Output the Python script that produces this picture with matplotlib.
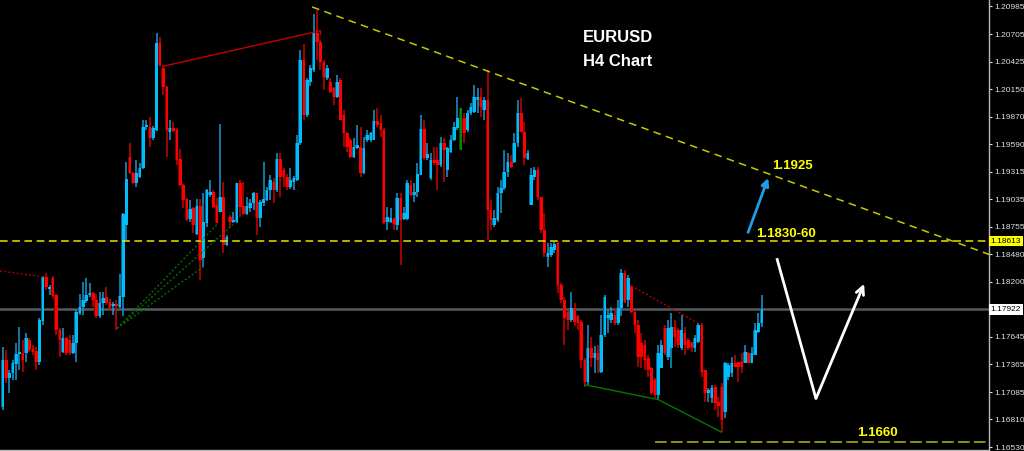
import matplotlib
matplotlib.use('Agg')
import matplotlib.pyplot as plt
import matplotlib.transforms as mtransforms
import numpy as np

# ---------------- data (EURUSD H4 candles) ----------------
opens = [1.1693, 1.1741, 1.1723, 1.1728, 1.1737, 1.1747, 1.1748, 1.1748, 1.1761, 1.1752,
         1.1750, 1.1739, 1.1780, 1.1825, 1.1813, 1.1824, 1.1807, 1.1771, 1.1749, 1.1763,
         1.1761, 1.1748, 1.1758, 1.1789, 1.1795, 1.1801, 1.1807, 1.1809, 1.1802, 1.1785,
         1.1799, 1.1805, 1.1800, 1.1796, 1.1798, 1.1795, 1.1805, 1.1878, 1.1946, 1.1930,
         1.1920, 1.1926, 1.1935, 1.1977, 1.1977, 1.1965, 1.1974, 1.2062, 1.2036, 1.2017,
         1.1972, 1.1976, 1.1974, 1.1944, 1.1918, 1.1904, 1.1884, 1.1895, 1.1868, 1.1897,
         1.1844, 1.1880, 1.1908, 1.1911, 1.1898, 1.1891, 1.1906, 1.1857, 1.1886, 1.1881,
         1.1881, 1.1920, 1.1897, 1.1889, 1.1895, 1.1900, 1.1910, 1.1885, 1.1900, 1.1903,
         1.1913, 1.1921, 1.1913, 1.1944, 1.1933, 1.1926, 1.1916, 1.1921, 1.1923, 1.1960,
         1.2044, 1.1989, 1.2022, 1.2034, 1.2072, 1.2063, 1.2042, 1.2026, 1.2022, 1.2016,
         1.2007, 1.2024, 1.1989, 1.1971, 1.1963, 1.1946, 1.1955, 1.1956, 1.1930, 1.1963,
         1.1963, 1.1963, 1.1983, 1.1981, 1.1974, 1.1881, 1.1881, 1.1884, 1.1878, 1.1905,
         1.1884, 1.1884, 1.1918, 1.1908, 1.1911, 1.1928, 1.1975, 1.1945, 1.1925, 1.1943,
         1.1943, 1.1938, 1.1960, 1.1933, 1.1951, 1.1963, 1.1976, 1.1953, 1.1986, 1.1974,
         1.1991, 1.1992, 1.2004, 1.2007, 1.1994, 1.2004, 1.1893, 1.1878, 1.1883, 1.1910,
         1.1915, 1.1931, 1.1941, 1.1941, 1.1960, 1.1991, 1.1972, 1.1944, 1.1898, 1.1926,
         1.1933, 1.1906, 1.1872, 1.1845, 1.1847, 1.1852, 1.1859, 1.1817, 1.1802, 1.1790,
         1.1781, 1.1794, 1.1785, 1.1779, 1.1741, 1.1719, 1.1753, 1.1743, 1.1748, 1.1729,
         1.1766, 1.1783, 1.1781, 1.1787, 1.1778, 1.1794, 1.1829, 1.1802, 1.1815, 1.1790,
         1.1776, 1.1758, 1.1756, 1.1743, 1.1733, 1.1721, 1.1706, 1.1733, 1.1773, 1.1744,
         1.1753, 1.1774, 1.1771, 1.1753, 1.1768, 1.1761, 1.1759, 1.1753, 1.1759, 1.1776,
         1.1731, 1.1708, 1.1703, 1.1714, 1.1699, 1.1714, 1.1688, 1.1724, 1.1728, 1.1738,
         1.1739, 1.1739, 1.1738, 1.1748, 1.1738, 1.1746, 1.1769, 1.1778]
highs = [1.1754, 1.1751, 1.1731, 1.1741, 1.1758, 1.1774, 1.1761, 1.1768, 1.1763, 1.1756,
         1.1754, 1.1783, 1.1826, 1.1829, 1.1817, 1.1826, 1.1808, 1.1773, 1.1773, 1.1764,
         1.1766, 1.1766, 1.1792, 1.1808, 1.1820, 1.1824, 1.1819, 1.1810, 1.1808, 1.1810,
         1.1810, 1.1815, 1.1803, 1.1800, 1.1802, 1.1828, 1.1890, 1.1941, 1.1960, 1.1931,
         1.1943, 1.1940, 1.1984, 1.1984, 1.1987, 1.1978, 1.2072, 1.2068, 1.2039, 1.2018,
         1.1984, 1.1982, 1.1976, 1.1954, 1.1919, 1.1905, 1.1903, 1.1896, 1.1904, 1.1904,
         1.1910, 1.1914, 1.1923, 1.1913, 1.1905, 1.1980, 1.1921, 1.1867, 1.1888, 1.1891,
         1.1920, 1.1923, 1.1921, 1.1906, 1.1904, 1.1911, 1.1910, 1.1903, 1.1941, 1.1916,
         1.1928, 1.1925, 1.1950, 1.1950, 1.1935, 1.1929, 1.1935, 1.1927, 1.1969, 1.2054,
         1.2061, 1.2026, 1.2039, 1.2091, 1.2095, 1.2065, 1.2044, 1.2039, 1.2026, 1.2017,
         1.2029, 1.2026, 1.1994, 1.1972, 1.1965, 1.1965, 1.1979, 1.1977, 1.1966, 1.1974,
         1.1972, 1.1994, 1.1996, 1.1989, 1.1976, 1.1896, 1.1895, 1.1886, 1.1910, 1.1910,
         1.1896, 1.1923, 1.1923, 1.1920, 1.1940, 1.1989, 1.1984, 1.1960, 1.1950, 1.1956,
         1.1956, 1.1966, 1.1965, 1.1956, 1.1969, 1.1982, 1.2007, 1.1996, 1.1991, 1.1994,
         1.2001, 1.2019, 1.2016, 1.2016, 1.2007, 1.2034, 1.1903, 1.1893, 1.1916, 1.1923,
         1.1953, 1.1950, 1.1948, 1.1971, 1.2004, 1.2006, 1.1982, 1.1953, 1.1935, 1.1936,
         1.1936, 1.1906, 1.1890, 1.1859, 1.1859, 1.1860, 1.1861, 1.1819, 1.1805, 1.1792,
         1.1810, 1.1799, 1.1787, 1.1781, 1.1743, 1.1776, 1.1764, 1.1755, 1.1756, 1.1787,
         1.1807, 1.1792, 1.1795, 1.1794, 1.1802, 1.1833, 1.1832, 1.1827, 1.1817, 1.1792,
         1.1781, 1.1768, 1.1761, 1.1746, 1.1734, 1.1723, 1.1756, 1.1761, 1.1776, 1.1781,
         1.1789, 1.1781, 1.1773, 1.1787, 1.1774, 1.1763, 1.1759, 1.1766, 1.1778, 1.1778,
         1.1731, 1.1713, 1.1716, 1.1716, 1.1704, 1.1718, 1.1739, 1.1738, 1.1744, 1.1746,
         1.1739, 1.1748, 1.1756, 1.1749, 1.1754, 1.1778, 1.1789, 1.1807]
lows = [1.1690, 1.1718, 1.1708, 1.1721, 1.1721, 1.1731, 1.1729, 1.1739, 1.1749, 1.1746,
        1.1731, 1.1736, 1.1776, 1.1812, 1.1807, 1.1804, 1.1766, 1.1744, 1.1748, 1.1746,
        1.1746, 1.1747, 1.1739, 1.1787, 1.1787, 1.1799, 1.1805, 1.1795, 1.1783, 1.1783,
        1.1787, 1.1797, 1.1792, 1.1787, 1.1771, 1.1794, 1.1785, 1.1862, 1.1929, 1.1919,
        1.1916, 1.1925, 1.1934, 1.1974, 1.1956, 1.1963, 1.1973, 1.2037, 1.2009, 1.1946,
        1.1963, 1.1972, 1.1938, 1.1917, 1.1895, 1.1882, 1.1881, 1.1869, 1.1867, 1.1822,
        1.1835, 1.1875, 1.1906, 1.1895, 1.1880, 1.1891, 1.1849, 1.1856, 1.1874, 1.1880,
        1.1880, 1.1886, 1.1888, 1.1888, 1.1891, 1.1893, 1.1867, 1.1875, 1.1897, 1.1902,
        1.1903, 1.1900, 1.1911, 1.1906, 1.1916, 1.1913, 1.1914, 1.1913, 1.1922, 1.1958,
        1.1984, 1.1987, 1.2018, 1.2032, 1.2044, 1.2034, 1.2014, 1.2024, 1.2011, 1.1999,
        1.2006, 1.1984, 1.1956, 1.1951, 1.1945, 1.1945, 1.1954, 1.1926, 1.1929, 1.1961,
        1.1961, 1.1963, 1.1977, 1.1966, 1.1879, 1.1872, 1.1880, 1.1872, 1.1872, 1.1837,
        1.1883, 1.1883, 1.1907, 1.1901, 1.1906, 1.1928, 1.1943, 1.1943, 1.1923, 1.1938,
        1.1913, 1.1936, 1.1921, 1.1926, 1.1950, 1.1962, 1.1974, 1.1953, 1.1960, 1.1972,
        1.1989, 1.1991, 1.1991, 1.1987, 1.1984, 1.1862, 1.1872, 1.1875, 1.1881, 1.1890,
        1.1913, 1.1926, 1.1935, 1.1940, 1.1956, 1.1972, 1.1938, 1.1943, 1.1898, 1.1923,
        1.1903, 1.1869, 1.1845, 1.1835, 1.1845, 1.1849, 1.1809, 1.1799, 1.1756, 1.1771,
        1.1779, 1.1775, 1.1771, 1.1733, 1.1714, 1.1716, 1.1734, 1.1728, 1.1728, 1.1728,
        1.1764, 1.1768, 1.1778, 1.1776, 1.1776, 1.1785, 1.1799, 1.1795, 1.1789, 1.1768,
        1.1734, 1.1733, 1.1731, 1.1724, 1.1706, 1.1703, 1.1701, 1.1733, 1.1746, 1.1741,
        1.1733, 1.1754, 1.1753, 1.1751, 1.1746, 1.1751, 1.1749, 1.1749, 1.1758, 1.1724,
        1.1699, 1.1699, 1.1698, 1.1690, 1.1683, 1.1668, 1.1682, 1.1721, 1.1724, 1.1734,
        1.1719, 1.1728, 1.1738, 1.1738, 1.1738, 1.1746, 1.1768, 1.1774]
closes = [1.1741, 1.1723, 1.1728, 1.1738, 1.1747, 1.1749, 1.1741, 1.1763, 1.1751, 1.1749,
          1.1739, 1.1781, 1.1825, 1.1815, 1.1815, 1.1806, 1.1771, 1.1761, 1.1763, 1.1748,
          1.1748, 1.1758, 1.1790, 1.1795, 1.1802, 1.1807, 1.1809, 1.1802, 1.1785, 1.1799,
          1.1804, 1.1799, 1.1794, 1.1798, 1.1796, 1.1806, 1.1889, 1.1924, 1.1930, 1.1920,
          1.1930, 1.1935, 1.1977, 1.1979, 1.1965, 1.1976, 1.2062, 1.2039, 1.2017, 1.1974,
          1.1976, 1.1973, 1.1943, 1.1918, 1.1903, 1.1883, 1.1894, 1.1878, 1.1897, 1.1842,
          1.1881, 1.1913, 1.1911, 1.1896, 1.1880, 1.1906, 1.1857, 1.1865, 1.1881, 1.1883,
          1.1920, 1.1896, 1.1889, 1.1897, 1.1900, 1.1910, 1.1885, 1.1901, 1.1904, 1.1913,
          1.1923, 1.1913, 1.1944, 1.1926, 1.1926, 1.1916, 1.1923, 1.1925, 1.1960, 1.2044,
          1.1989, 1.2024, 1.2036, 1.2072, 1.2063, 1.2042, 1.2027, 1.2036, 1.2012, 1.2007,
          1.2022, 1.1984, 1.1971, 1.1956, 1.1946, 1.1956, 1.1958, 1.1930, 1.1955, 1.1969,
          1.1971, 1.1983, 1.1979, 1.1974, 1.1880, 1.1886, 1.1885, 1.1879, 1.1905, 1.1883,
          1.1890, 1.1920, 1.1908, 1.1911, 1.1929, 1.1975, 1.1945, 1.1949, 1.1943, 1.1940,
          1.1938, 1.1960, 1.1953, 1.1955, 1.1963, 1.1977, 1.1986, 1.1996, 1.1971, 1.1991,
          1.1997, 1.2007, 1.2007, 1.1997, 1.2004, 1.1893, 1.1883, 1.1885, 1.1910, 1.1915,
          1.1931, 1.1941, 1.1936, 1.1960, 1.1991, 1.1972, 1.1945, 1.1950, 1.1928, 1.1933,
          1.1906, 1.1872, 1.1849, 1.1849, 1.1855, 1.1858, 1.1817, 1.1802, 1.1783, 1.1781,
          1.1794, 1.1779, 1.1778, 1.1741, 1.1719, 1.1753, 1.1743, 1.1748, 1.1741, 1.1766,
          1.1805, 1.1787, 1.1789, 1.1778, 1.1794, 1.1829, 1.1800, 1.1824, 1.1790, 1.1776,
          1.1744, 1.1744, 1.1741, 1.1731, 1.1708, 1.1706, 1.1748, 1.1756, 1.1748, 1.1773,
          1.1774, 1.1764, 1.1756, 1.1771, 1.1756, 1.1753, 1.1754, 1.1763, 1.1776, 1.1729,
          1.1708, 1.1711, 1.1713, 1.1698, 1.1694, 1.1680, 1.1738, 1.1736, 1.1738, 1.1734,
          1.1734, 1.1734, 1.1749, 1.1738, 1.1748, 1.1771, 1.1778, 1.17922]
neutral_bars = [137]          # the one green-coloured bar

# right price scale
tick_prices = [1.20985, 1.20705, 1.20425, 1.20150, 1.19870, 1.19590, 1.19315, 1.19035,
               1.18755, 1.18480, 1.18200, 1.17645, 1.17365, 1.17085, 1.16810, 1.16530]
resistance_level = 1.18613
current_price = 1.17922
support_level = 1.1658

# drawn objects, as (bar index, price)
trend_down = [(92.5, 1.2098), (295.0, 1.18477)]
red_top_line = [(48, 1.2038), (95, 1.2074), (95, 1.2070)]
red_dot_left = [(-0.8, 1.1831), (12.5, 1.1825)]
fan_origin = (34.2, 1.1773)
fan_ends = [(64.1, 1.1878), (68.9, 1.1878), (59.9, 1.1835)]
green_lows = [(174, 1.1716), (196, 1.1701), (215, 1.1668)]
red_dot_right = [(188, 1.1816), (208, 1.1778)]
blue_arrow = [(222.9, 1.1870), (228.9, 1.1925)]
white_path = [(231.5, 1.1844), (243.2, 1.1702), (257.6, 1.1818)]
support_start = 195.0

# ---------------- figure ----------------
W, H = 1024, 451
fig = plt.figure(figsize=(W / 100, H / 100), dpi=100, facecolor='black')
ax = fig.add_axes([0, 1 / H, 989 / W, 450 / H])
ax.set_facecolor('black')
ax.set_xlim(-0.81, 294.95)
ax.set_ylim(1.16500, 1.21050)

o = np.array(opens); h = np.array(highs); l = np.array(lows); c = np.array(closes)
x = np.arange(len(o))
bull = c >= o
body_col = np.where(bull, '#00bcf8', '#ff0000').astype(object)
dark_col = np.where(bull, '#0a6088', '#800000').astype(object)
wick_col = np.where(bull, '#1898d0', '#d00000').astype(object)
for i in neutral_bars:
    body_col[i] = '#008a00'; dark_col[i] = '#005000'; wick_col[i] = '#008a00'

bottom = np.minimum(o, c)
height = np.maximum(np.abs(c - o), 0.00007)

# current price line (behind candles)
ax.axhline(current_price, color='#555a62', lw=1.8, zorder=1)

ax.vlines(x, l, h, colors=list(wick_col), lw=1.1, zorder=2)
ax.bar(x - 0.3, height, 0.5, bottom=bottom, color=list(dark_col), lw=0, zorder=2)
ax.bar(x + 0.08, height, 0.78, bottom=bottom, color=list(body_col), lw=0, zorder=3)

# horizontal levels
ax.axhline(resistance_level, color='#e6e600', lw=1.1, ls=(0, (5, 3.0)), zorder=4)
ax.plot([support_start, 295], [support_level, support_level], color='#8f8f10', lw=1.4,
        ls=(0, (6, 2.2)), zorder=4)

# descending trendline
ax.plot(*zip(*trend_down), color='#c8c800', lw=1.1, ls=(0, (5, 3.5)), zorder=4)

# red lines
ax.plot(*zip(*red_top_line), color='#c00000', lw=1.0, zorder=4)
ax.plot(*zip(*red_dot_left), color='#b00000', lw=1.0, ls=(0, (1.5, 1.5)), zorder=4)
ax.plot(*zip(*red_dot_right), color='#b00000', lw=1.0, ls=(0, (1.5, 1.5)), zorder=4)

# green fan lines
for ex, ey in fan_ends:
    ax.plot([fan_origin[0], ex], [fan_origin[1], ey], color='#006e00', lw=1.0,
            ls=(0, (1.5, 1.5)), zorder=4)

# green line through lows
ax.plot(*zip(*green_lows), color='#007800', lw=1.0, zorder=4)

# arrows
ax.annotate('', xy=blue_arrow[1], xytext=blue_arrow[0],
            arrowprops=dict(arrowstyle='-|>', color='#1e9ee6', lw=2.0, mutation_scale=11,
                            shrinkA=0, shrinkB=0), zorder=5)
ax.plot([white_path[0][0], white_path[1][0]], [white_path[0][1], white_path[1][1]],
        color='white', lw=2.0, zorder=5, solid_capstyle='butt')
ax.annotate('', xy=white_path[2], xytext=white_path[1],
            arrowprops=dict(arrowstyle='->', color='white', lw=2.0, mutation_scale=14,
                            shrinkA=0, shrinkB=0), zorder=5)

# texts
tf = 'Liberation Sans'
ax.text(173.5, 1.20623, 'EURUSD', color='white', fontsize=12, fontweight='bold',
        family=tf, va='baseline', ha='left', zorder=6)
ax.text(173.5, 1.20383, 'H4 Chart', color='white', fontsize=12, fontweight='bold',
        family=tf, va='baseline', ha='left', zorder=6)
ax.text(230.1, 1.19341, '1.1925', color='#ffff00', fontsize=9.5, fontweight='bold',
        family=tf, va='baseline', ha='left', zorder=6)
ax.text(225.3, 1.18654, '1.1830-60', color='#ffff00', fontsize=9.5, fontweight='bold',
        family=tf, va='baseline', ha='left', zorder=6)
ax.text(255.5, 1.16642, '1.1660', color='#ffff00', fontsize=9.5, fontweight='bold',
        family=tf, va='baseline', ha='left', zorder=6)

# axes styling
for s in ['top', 'left']:
    ax.spines[s].set_visible(False)
ax.spines['right'].set_color('#b8b8b8')
ax.spines['bottom'].set_color('#b8b8b8')
ax.spines['right'].set_linewidth(1.0)
ax.spines['bottom'].set_linewidth(1.0)
ax.set_xticks([])
ax.yaxis.tick_right()
ax.set_yticks(tick_prices)
ax.set_yticklabels([f'{v:.5f}' for v in tick_prices], family=tf)
ax.tick_params(axis='y', colors='#e0e0e0', length=2.5, width=0.8, pad=1.5, labelsize=6.0)

# price boxes on the scale
trans = mtransforms.blended_transform_factory(ax.transAxes, ax.transData)
ax.text(1.0015, resistance_level, f'{resistance_level:.5f}', transform=trans, color='black',
        fontsize=6.0, family=tf, va='center', ha='left', clip_on=False, zorder=7,
        bbox=dict(boxstyle='square,pad=0.22', fc='#ffff00', ec='none'))
ax.text(1.0015, current_price, f'{current_price:.5f}', transform=trans, color='black',
        fontsize=6.0, family=tf, va='center', ha='left', clip_on=False, zorder=7,
        bbox=dict(boxstyle='square,pad=0.22', fc='white', ec='none'))

fig.savefig('out.png', dpi=100, facecolor='black')
